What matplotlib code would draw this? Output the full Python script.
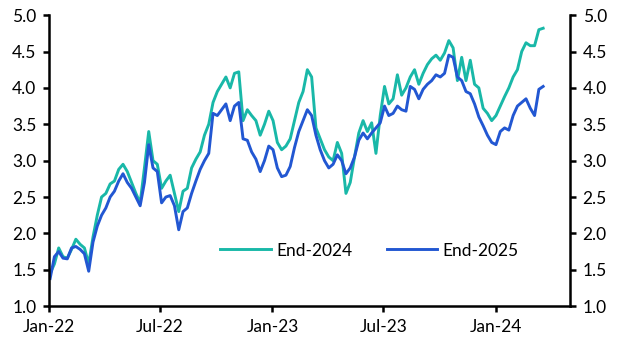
import matplotlib.pyplot as plt
import matplotlib.dates as mdates
import pandas as pd

plt.rcParams['font.family'] = ['Lato', 'DejaVu Sans']

# weekly observations, Jan 2022 to mid-March 2024
dates = pd.date_range('2022-01-03', periods=116, freq='W-MON')

end_2024 = [1.45, 1.58, 1.80, 1.68, 1.66, 1.78, 1.92, 1.85, 1.80, 1.58,
            1.95, 2.25, 2.50, 2.55, 2.68, 2.72, 2.88, 2.95, 2.85, 2.70,
            2.55, 2.42, 2.90, 3.40, 3.00, 2.95, 2.62, 2.72, 2.80, 2.55,
            2.30, 2.58, 2.62, 2.90, 3.02, 3.12, 3.35, 3.50, 3.80, 3.95,
            4.05, 4.15, 4.00, 4.20, 4.22, 3.55, 3.70, 3.62, 3.55, 3.35,
            3.50, 3.68, 3.55, 3.25, 3.15, 3.20, 3.30, 3.55, 3.80, 3.95,
            4.25, 4.15, 3.45, 3.30, 3.15, 3.05, 3.00, 3.25, 3.10, 2.55,
            2.70, 3.05, 3.38, 3.55, 3.40, 3.52, 3.10, 3.62, 4.02, 3.78,
            3.85, 4.18, 3.90, 4.00, 4.15, 4.25, 4.05, 4.20, 4.32, 4.40,
            4.45, 4.38, 4.48, 4.65, 4.55, 4.10, 4.42, 4.10, 4.38, 4.05,
            4.00, 3.72, 3.65, 3.55, 3.62, 3.75, 3.88, 4.00, 4.15, 4.25,
            4.50, 4.62, 4.58, 4.58, 4.80, 4.82]

end_2025 = [1.38, 1.68, 1.75, 1.66, 1.65, 1.80, 1.82, 1.78, 1.72, 1.48,
            1.88, 2.10, 2.25, 2.35, 2.50, 2.58, 2.72, 2.82, 2.70, 2.62,
            2.50, 2.38, 2.70, 3.22, 2.90, 2.85, 2.42, 2.50, 2.52, 2.38,
            2.05, 2.30, 2.35, 2.55, 2.72, 2.88, 3.00, 3.10, 3.65, 3.62,
            3.70, 3.78, 3.55, 3.75, 3.80, 3.30, 3.28, 3.12, 3.02, 2.85,
            3.00, 3.20, 3.15, 2.90, 2.78, 2.80, 2.92, 3.18, 3.40, 3.55,
            3.70, 3.62, 3.35, 3.15, 3.00, 2.90, 2.95, 3.08, 3.00, 2.82,
            2.90, 3.05, 3.28, 3.38, 3.30, 3.38, 3.45, 3.52, 3.75, 3.62,
            3.65, 3.75, 3.70, 3.68, 4.02, 3.98, 3.85, 3.98, 4.05, 4.10,
            4.18, 4.15, 4.20, 4.45, 4.42, 4.15, 4.10, 3.95, 3.92, 3.78,
            3.60, 3.48, 3.35, 3.25, 3.22, 3.40, 3.45, 3.42, 3.62, 3.75,
            3.80, 3.85, 3.72, 3.62, 3.98, 4.02]

teal = '#19b8a8'
blue = '#2257d2'

fig = plt.figure(figsize=(6.19, 3.44), dpi=100)
ax = fig.add_axes([0.079, 0.110, 0.842, 0.846])

ax.plot(dates, end_2024, color=teal, lw=2.1, label='End-2024')
ax.plot(dates, end_2025, color=blue, lw=2.1, label='End-2025')

ax.set_ylim(1.0, 5.0)
ax.set_yticks([1.0, 1.5, 2.0, 2.5, 3.0, 3.5, 4.0, 4.5, 5.0])
ax.yaxis.set_major_formatter(plt.FormatStrFormatter('%.1f'))
ax.set_xlim(pd.Timestamp('2022-01-01'), pd.Timestamp('2024-05-01'))
ax.set_xticks(pd.to_datetime(['2022-01-01', '2022-07-01', '2023-01-01',
                              '2023-07-01', '2024-01-01']))
ax.xaxis.set_major_formatter(mdates.DateFormatter('%b-%y'))

for side in ['left', 'right', 'bottom']:
    ax.spines[side].set_linewidth(1.8)
    ax.spines[side].set_color('black')
ax.spines['top'].set_visible(False)

ax.tick_params(axis='both', direction='out', length=4, width=1.8,
               labelsize=12.5, color='black', labelcolor='black')
ax.tick_params(axis='y', left=True, right=True, labelleft=True, labelright=True, pad=5)
ax.tick_params(axis='x', pad=5)

ax.legend(loc='lower center', bbox_to_anchor=(0.615, 0.11), ncol=2, frameon=False,
          fontsize=12.5, handlelength=2.9, handletextpad=0.3, columnspacing=2.0)

fig.savefig('out.png', dpi=100)
